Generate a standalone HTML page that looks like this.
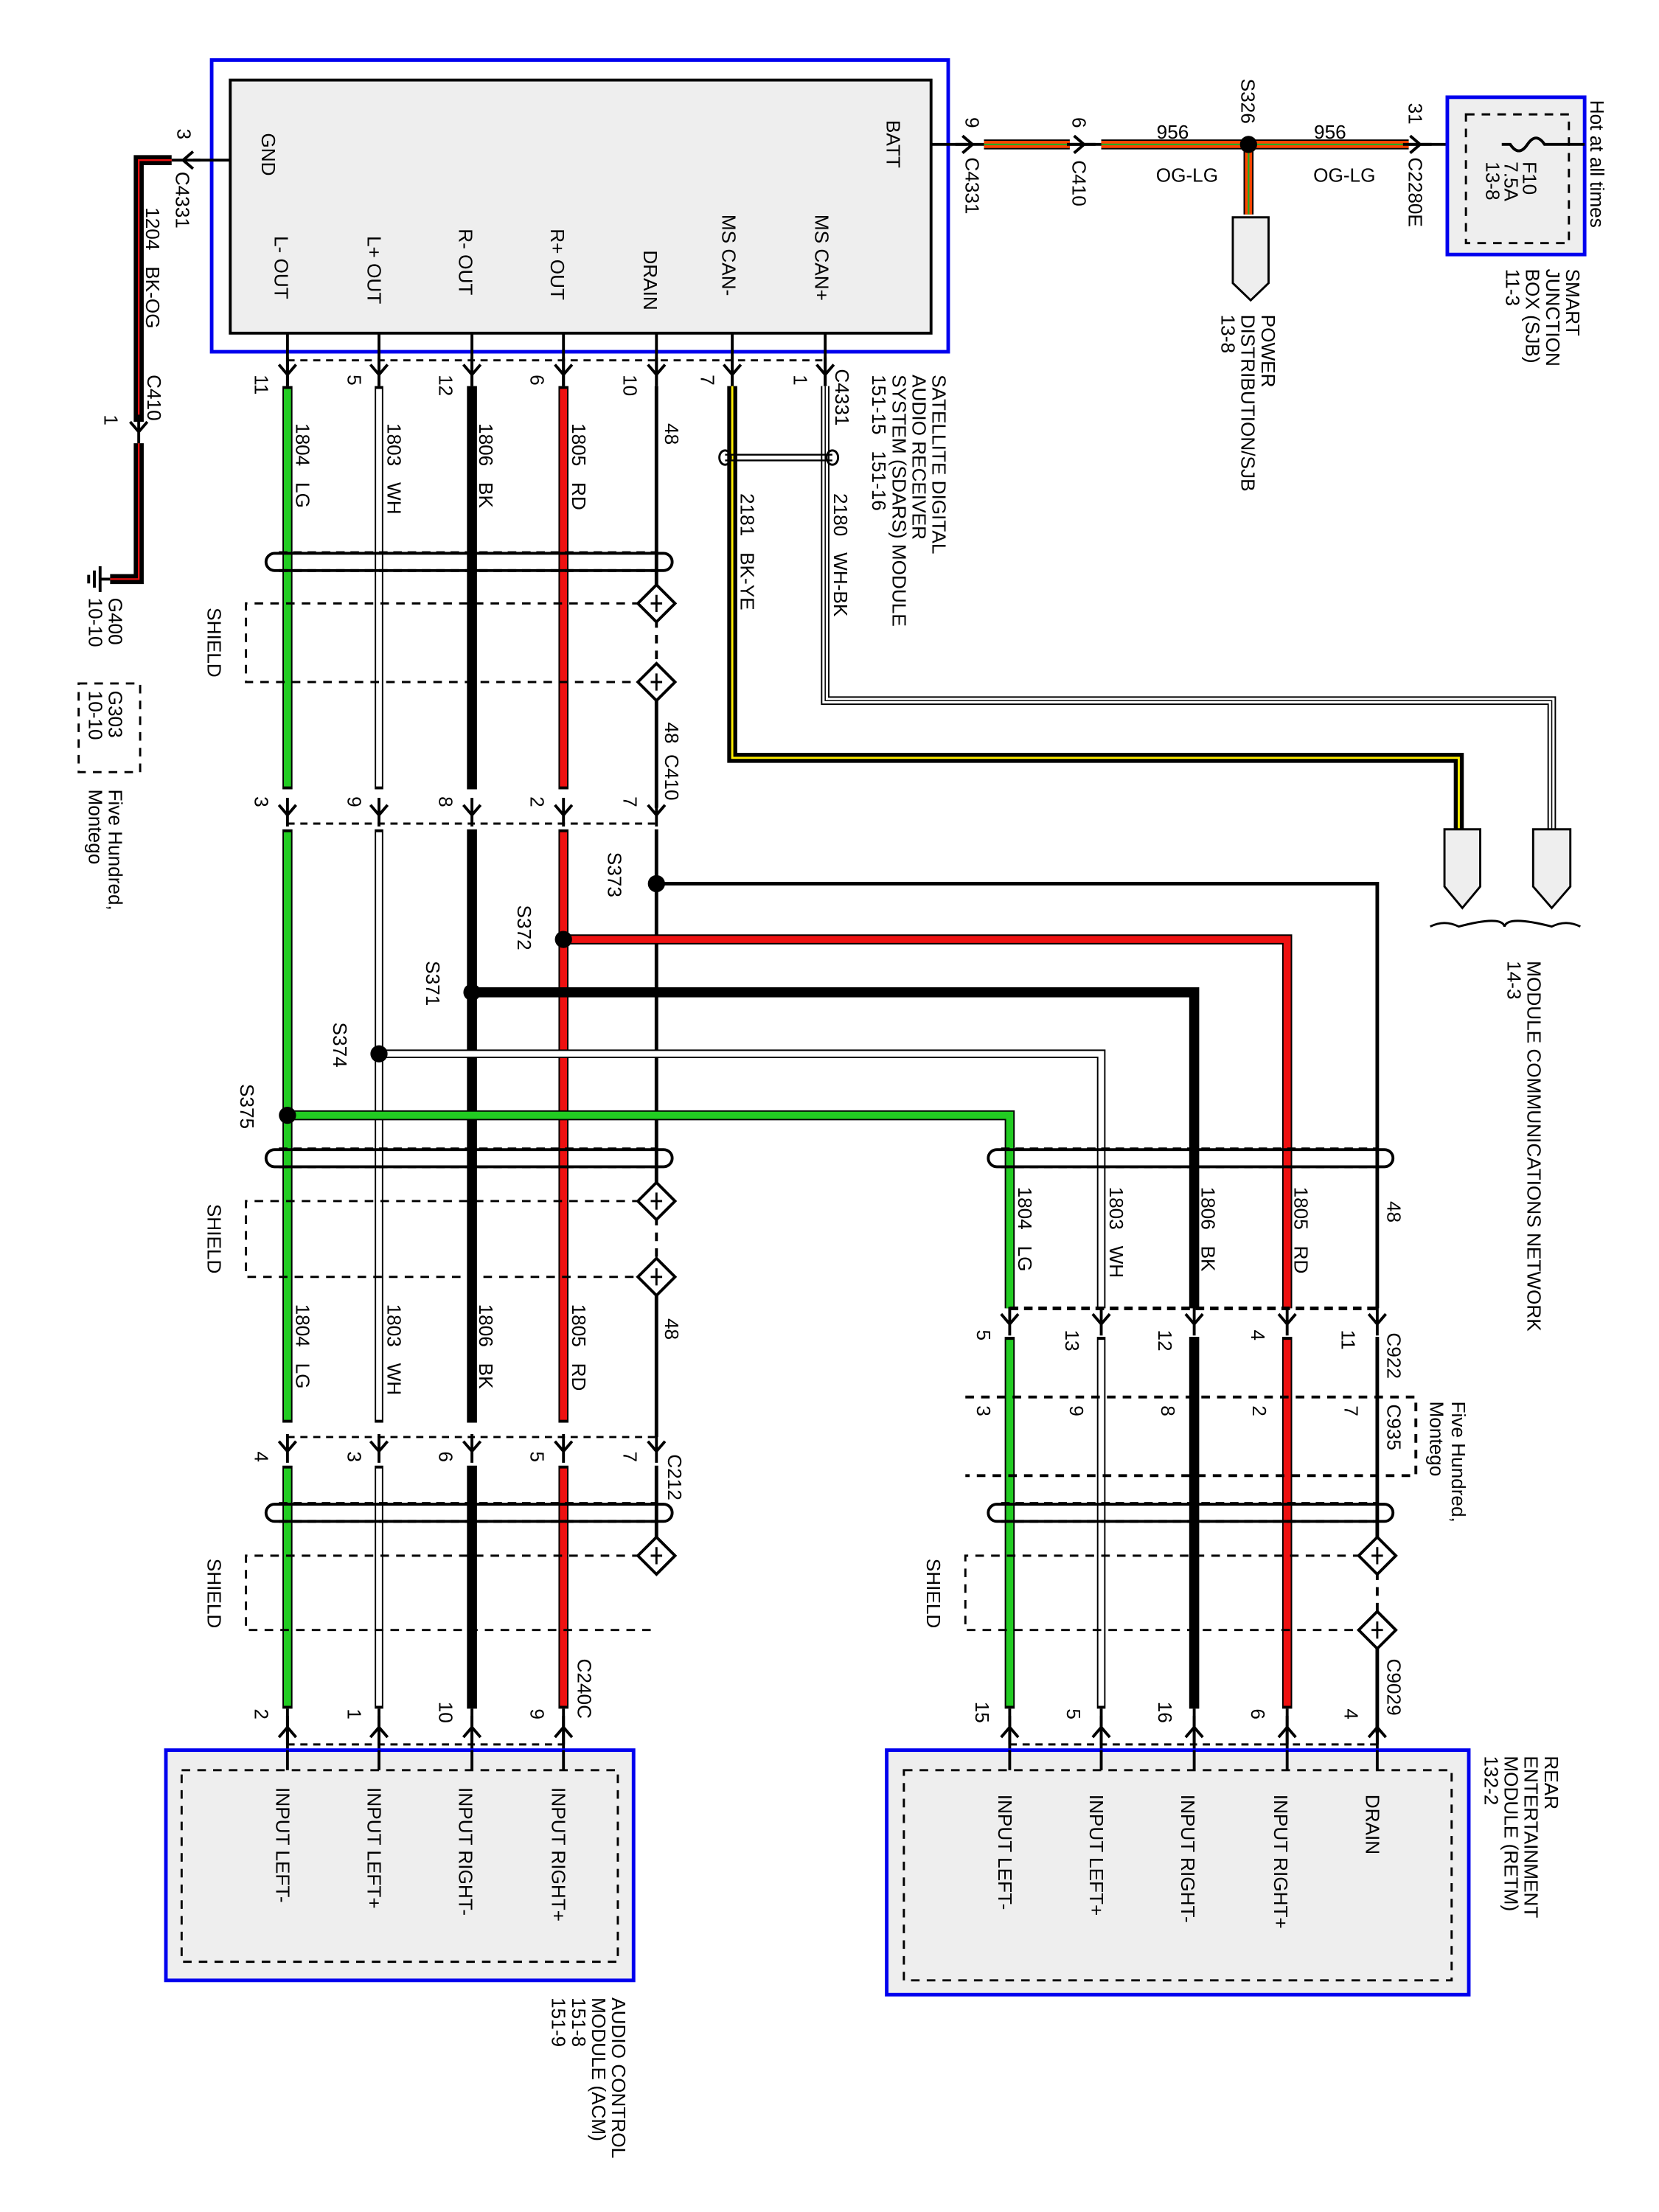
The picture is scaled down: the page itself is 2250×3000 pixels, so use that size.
<!DOCTYPE html>
<html><head><meta charset="utf-8"><style>
html,body{margin:0;padding:0;background:#fff}
svg{display:block}
text{font-family:"Liberation Sans",sans-serif;font-size:13.5px;fill:#000;white-space:pre}
.k{stroke:#000;fill:none}
</style></head><body>
<svg width="2250" height="3000" viewBox="0 0 1160 1547" preserveAspectRatio="none" xmlns="http://www.w3.org/2000/svg" xml:space="preserve">
<defs>
<g id="av"><path d="M-6,-7 L0,0 L6,-7 M0,-12 L0,8" stroke="#000" stroke-width="2" fill="none"/></g>
<g id="au"><path d="M-6,7 L0,0 L6,7 M0,-8 L0,12" stroke="#000" stroke-width="2" fill="none"/></g>
<g id="dm"><polygon points="0,-13 13,0 0,13 -13,0" fill="#fff" stroke="#000" stroke-width="2"/><path d="M0,-6 L0,6 M-4,0 L4,0" stroke="#000" stroke-width="1.5"/></g>
</defs>

<rect x="148" y="42" width="515" height="204" fill="none" stroke="#0000ee" stroke-width="2.5"/>
<rect x="161" y="56" width="490" height="177" fill="#eee" stroke="#000" stroke-width="2"/>
<g transform="translate(183,93) rotate(90)"><text>GND</text></g>
<g transform="translate(620,84) rotate(90)"><text>BATT</text></g>
<g transform="translate(192,165) rotate(90)"><text>L- OUT</text></g>
<g transform="translate(257,165) rotate(90)"><text>L+ OUT</text></g>
<g transform="translate(321,160) rotate(90)"><text>R- OUT</text></g>
<g transform="translate(385,160) rotate(90)"><text>R+ OUT</text></g>
<g transform="translate(450,175) rotate(90)"><text>DRAIN</text></g>
<g transform="translate(505,150) rotate(90)"><text>MS CAN-</text></g>
<g transform="translate(570,150) rotate(90)"><text>MS CAN+</text></g>

<path class="k" stroke-width="2" d="M201,233V270 M265,233V270 M330,233V270 M394,233V270 M459,233V270 M512,233V270 M577,233V270"/>
<path class="k" stroke-width="1.5" stroke-dasharray="5,4" d="M201,252H577"/>
<use href="#av" x="201" y="262"/><use href="#av" x="265" y="262"/><use href="#av" x="330" y="262"/><use href="#av" x="394" y="262"/><use href="#av" x="459" y="262"/><use href="#av" x="512" y="262"/><use href="#av" x="577" y="262"/>
<g transform="translate(178,262) rotate(90)"><text>11</text></g>
<g transform="translate(243,262) rotate(90)"><text>5</text></g>
<g transform="translate(307,262) rotate(90)"><text>12</text></g>
<g transform="translate(371,262) rotate(90)"><text>6</text></g>
<g transform="translate(436,262) rotate(90)"><text>10</text></g>
<g transform="translate(490,262) rotate(90)"><text>7</text></g>
<g transform="translate(555,262) rotate(90)"><text>1</text></g>
<g transform="translate(584,258) rotate(90)"><text>C4331</text></g>
<g transform="translate(652,262) rotate(90)"><text>SATELLITE DIGITAL</text></g>
<g transform="translate(638,262) rotate(90)"><text>AUDIO RECEIVER</text></g>
<g transform="translate(624,262) rotate(90)"><text>SYSTEM (SDARS) MODULE</text></g>
<g transform="translate(610,262) rotate(90)"><text>151-15   151-16</text></g>

<path d="M577,270V490H1085V580" fill="none" stroke="#000" stroke-width="6"/>
<path d="M577,270V490H1085V580" fill="none" stroke="#fff" stroke-width="4"/>
<path d="M577,270V490H1085V580" fill="none" stroke="#000" stroke-width="0.8"/>
<path d="M512,270V530H1020V580" fill="none" stroke="#000" stroke-width="7"/>
<path d="M512,270V530H1020V580" fill="none" stroke="#ffee00" stroke-width="1.5"/>
<ellipse cx="507" cy="320" rx="4" ry="5" fill="none" stroke="#000" stroke-width="1.5"/>
<ellipse cx="582" cy="320" rx="4" ry="5" fill="none" stroke="#000" stroke-width="1.5"/>
<path d="M507,318H582 M507,322H582" stroke="#000" stroke-width="1.2"/>
<g transform="translate(518,345) rotate(90)"><text>2181   BK-YE</text></g>
<g transform="translate(583,345) rotate(90)"><text>2180   WH-BK</text></g>
<path d="M1010,580H1035V620L1022.5,635L1010,620Z" fill="#eee" stroke="#000" stroke-width="1.5"/>
<path d="M1072,580H1098V620L1085,635L1072,620Z" fill="#eee" stroke="#000" stroke-width="1.5"/>
<path d="M1000,648 Q1010,643 1020,648 Q1050,640 1052,648 Q1054,640 1085,648 Q1095,643 1105,648" fill="none" stroke="#000" stroke-width="1.5"/>
<g transform="translate(1068,672) rotate(90)"><text>MODULE COMMUNICATIONS NETWORK</text></g>
<g transform="translate(1054,672) rotate(90)"><text>14-3</text></g>

<g fill="none">
<path d="M201,270V552 M201,580V995 M201,1025V1195" stroke="#000" stroke-width="7"/>
<path d="M201,272V550 M201,582V993 M201,1027V1193" stroke="#22cc22" stroke-width="5"/>
<path d="M265,270V552 M265,580V995 M265,1025V1195" stroke="#000" stroke-width="6"/>
<path d="M265,272V550 M265,582V993 M265,1027V1193" stroke="#fff" stroke-width="4"/>
<path d="M330,270V552 M330,580V995 M330,1025V1195" stroke="#000" stroke-width="7"/>
<path d="M394,270V552 M394,580V995 M394,1025V1195" stroke="#000" stroke-width="7"/>
<path d="M394,272V550 M394,582V993 M394,1027V1193" stroke="#ee1111" stroke-width="5"/>
<path d="M459,270V422 M459,477V565 M459,580V840 M459,893V1005 M459,1025V1088" stroke="#000" stroke-width="2.5"/>
<path d="M459,422V477 M459,840V893" stroke="#000" stroke-width="2" stroke-dasharray="6,5"/>
</g>
<g fill="none">
<path d="M459,618H963V915" stroke="#000" stroke-width="2.5"/>
<path d="M394,657H900V915" stroke="#000" stroke-width="7"/>
<path d="M394,657H900V915" stroke="#ee1111" stroke-width="5"/>
<path d="M330,694H835V915" stroke="#000" stroke-width="7"/>
<path d="M265,737H770V915" stroke="#000" stroke-width="6"/>
<path d="M265,737H770V915" stroke="#fff" stroke-width="4"/>
<path d="M201,780H706V915" stroke="#000" stroke-width="7"/>
<path d="M201,780H706V915" stroke="#22cc22" stroke-width="5"/>
<path d="M706,935V1195 M835,935V1195 M900,935V1195" stroke="#000" stroke-width="7"/>
<path d="M706,937V1193" stroke="#22cc22" stroke-width="5"/>
<path d="M900,937V1193" stroke="#ee1111" stroke-width="5"/>
<path d="M770,935V1195" stroke="#000" stroke-width="6"/>
<path d="M770,937V1193" stroke="#fff" stroke-width="4"/>
<path d="M963,935V1088 M963,1140V1212" stroke="#000" stroke-width="2.5"/>
<path d="M963,1088V1140" stroke="#000" stroke-width="2" stroke-dasharray="6,5"/>
</g>
<circle cx="459" cy="618" r="6"/><circle cx="394" cy="657" r="6"/><circle cx="330" cy="694" r="6"/><circle cx="265" cy="737" r="6"/><circle cx="201" cy="780" r="6"/>
<g transform="translate(425,596) rotate(90)"><text>S373</text></g>
<g transform="translate(362,633) rotate(90)"><text>S372</text></g>
<g transform="translate(298,672) rotate(90)"><text>S371</text></g>
<g transform="translate(233,715) rotate(90)"><text>S374</text></g>
<g transform="translate(168,758) rotate(90)"><text>S375</text></g>

<g fill="none" stroke="#000" stroke-width="2">
<rect x="186" y="387" width="284" height="12" rx="6"/>
<path d="M195,399H460" stroke-dasharray="6,4"/><path d="M195,386H460" stroke-width="1" stroke-dasharray="6,4"/>
<rect x="186" y="804" width="284" height="12" rx="6"/>
<path d="M195,816H460" stroke-dasharray="6,4"/><path d="M195,803H460" stroke-width="1" stroke-dasharray="6,4"/>
<rect x="186" y="1052" width="284" height="12" rx="6"/>
<path d="M195,1064H460" stroke-dasharray="6,4"/><path d="M195,1051H460" stroke-width="1" stroke-dasharray="6,4"/>
<rect x="691" y="804" width="283" height="12" rx="6"/>
<path d="M700,816H964" stroke-dasharray="6,4"/><path d="M700,803H964" stroke-width="1" stroke-dasharray="6,4"/>
<rect x="691" y="1052" width="283" height="12" rx="6"/>
<path d="M700,1064H964" stroke-dasharray="6,4"/><path d="M700,1051H964" stroke-width="1" stroke-dasharray="6,4"/>
</g>
<g fill="none" stroke="#000" stroke-width="1.5" stroke-dasharray="6,5">
<path d="M459,422H172V477H459"/>
<path d="M459,840H172V893H459"/>
<path d="M459,1088H172V1140H459"/>
<path d="M963,1088H675V1140H963"/>
</g>
<use href="#dm" x="459" y="422"/><use href="#dm" x="459" y="477"/>
<use href="#dm" x="459" y="840"/><use href="#dm" x="459" y="893"/>
<use href="#dm" x="459" y="1088"/>
<use href="#dm" x="963" y="1088"/><use href="#dm" x="963" y="1140"/>
<g transform="translate(145,425) rotate(90)"><text>SHIELD</text></g>
<g transform="translate(145,842) rotate(90)"><text>SHIELD</text></g>
<g transform="translate(145,1090) rotate(90)"><text>SHIELD</text></g>
<g transform="translate(648,1090) rotate(90)"><text>SHIELD</text></g>

<g transform="translate(207,296) rotate(90)"><text>1804   LG</text></g>
<g transform="translate(271,296) rotate(90)"><text>1803   WH</text></g>
<g transform="translate(335,296) rotate(90)"><text>1806   BK</text></g>
<g transform="translate(400,296) rotate(90)"><text>1805   RD</text></g>
<g transform="translate(465,296) rotate(90)"><text>48</text></g>

<path class="k" stroke-width="1.5" stroke-dasharray="5,4" d="M201,576H459"/>
<use href="#av" x="201" y="570"/><use href="#av" x="265" y="570"/><use href="#av" x="330" y="570"/><use href="#av" x="394" y="570"/><use href="#av" x="459" y="570"/>
<g transform="translate(178,557) rotate(90)"><text>3</text></g>
<g transform="translate(243,557) rotate(90)"><text>9</text></g>
<g transform="translate(307,557) rotate(90)"><text>8</text></g>
<g transform="translate(371,557) rotate(90)"><text>2</text></g>
<g transform="translate(436,557) rotate(90)"><text>7</text></g>
<g transform="translate(465,505) rotate(90)"><text>48  C410</text></g>

<g transform="translate(207,912) rotate(90)"><text>1804   LG</text></g>
<g transform="translate(271,912) rotate(90)"><text>1803   WH</text></g>
<g transform="translate(335,912) rotate(90)"><text>1806   BK</text></g>
<g transform="translate(400,912) rotate(90)"><text>1805   RD</text></g>
<g transform="translate(465,922) rotate(90)"><text>48</text></g>

<path class="k" stroke-width="1.5" stroke-dasharray="5,4" d="M201,1005H459"/>
<use href="#av" x="201" y="1015"/><use href="#av" x="265" y="1015"/><use href="#av" x="330" y="1015"/><use href="#av" x="394" y="1015"/><use href="#av" x="459" y="1015"/>
<g transform="translate(178,1015) rotate(90)"><text>4</text></g>
<g transform="translate(243,1015) rotate(90)"><text>3</text></g>
<g transform="translate(307,1015) rotate(90)"><text>6</text></g>
<g transform="translate(371,1015) rotate(90)"><text>5</text></g>
<g transform="translate(436,1015) rotate(90)"><text>7</text></g>
<g transform="translate(467,1017) rotate(90)"><text>C212</text></g>

<path class="k" stroke-width="2" d="M201,1195V1238 M265,1195V1238 M330,1195V1238 M394,1195V1238"/>
<path class="k" stroke-width="1.5" stroke-dasharray="5,4" d="M201,1220H394"/>
<use href="#au" x="201" y="1208"/><use href="#au" x="265" y="1208"/><use href="#au" x="330" y="1208"/><use href="#au" x="394" y="1208"/>
<g transform="translate(178,1195) rotate(90)"><text>2</text></g>
<g transform="translate(243,1195) rotate(90)"><text>1</text></g>
<g transform="translate(307,1190) rotate(90)"><text>10</text></g>
<g transform="translate(371,1195) rotate(90)"><text>9</text></g>
<g transform="translate(404,1160) rotate(90)"><text>C240C</text></g>
<rect x="116" y="1224" width="327" height="161" fill="#eee" stroke="#0000ee" stroke-width="2.5"/>
<rect x="127" y="1238" width="305" height="134" fill="none" stroke="#000" stroke-width="1.5" stroke-dasharray="6,5"/>
<path class="k" stroke-width="2" d="M201,1224V1238 M265,1224V1238 M330,1224V1238 M394,1224V1238"/>
<g transform="translate(193,1250) rotate(90)"><text>INPUT LEFT-</text></g>
<g transform="translate(257,1250) rotate(90)"><text>INPUT LEFT+</text></g>
<g transform="translate(321,1250) rotate(90)"><text>INPUT RIGHT-</text></g>
<g transform="translate(386,1250) rotate(90)"><text>INPUT RIGHT+</text></g>
<g transform="translate(428,1397) rotate(90)"><text>AUDIO CONTROL</text></g>
<g transform="translate(414,1397) rotate(90)"><text>MODULE (ACM)</text></g>
<g transform="translate(400,1397) rotate(90)"><text>151-8</text></g>
<g transform="translate(386,1397) rotate(90)"><text>151-9</text></g>

<g transform="translate(712,830) rotate(90)"><text>1804   LG</text></g>
<g transform="translate(776,830) rotate(90)"><text>1803   WH</text></g>
<g transform="translate(840,830) rotate(90)"><text>1806   BK</text></g>
<g transform="translate(905,830) rotate(90)"><text>1805   RD</text></g>
<g transform="translate(970,840) rotate(90)"><text>48</text></g>
<path class="k" stroke-width="2.5" stroke-dasharray="6,4" d="M706,915H963"/>
<use href="#av" x="706" y="926"/><use href="#av" x="770" y="926"/><use href="#av" x="835" y="926"/><use href="#av" x="900" y="926"/><use href="#av" x="963" y="926"/>
<g transform="translate(683,930) rotate(90)"><text>5</text></g>
<g transform="translate(745,930) rotate(90)"><text>13</text></g>
<g transform="translate(810,930) rotate(90)"><text>12</text></g>
<g transform="translate(875,930) rotate(90)"><text>4</text></g>
<g transform="translate(938,930) rotate(90)"><text>11</text></g>
<g transform="translate(970,932) rotate(90)"><text>C922</text></g>
<path class="k" stroke-width="2" stroke-dasharray="6,5" d="M675,977H990V1032H675"/>
<g transform="translate(683,983) rotate(90)"><text>3</text></g>
<g transform="translate(748,983) rotate(90)"><text>9</text></g>
<g transform="translate(812,983) rotate(90)"><text>8</text></g>
<g transform="translate(876,983) rotate(90)"><text>2</text></g>
<g transform="translate(940,983) rotate(90)"><text>7</text></g>
<g transform="translate(970,982) rotate(90)"><text>C935</text></g>
<g transform="translate(1015,980) rotate(90)"><text>Five Hundred,</text></g>
<g transform="translate(1000,980) rotate(90)"><text>Montego</text></g>
<path class="k" stroke-width="2" d="M706,1195V1238 M770,1195V1238 M835,1195V1238 M900,1195V1238 M963,1195V1238"/>
<path class="k" stroke-width="1.5" stroke-dasharray="5,4" d="M706,1220H963"/>
<use href="#au" x="706" y="1208"/><use href="#au" x="770" y="1208"/><use href="#au" x="835" y="1208"/><use href="#au" x="900" y="1208"/><use href="#au" x="963" y="1208"/>
<g transform="translate(682,1190) rotate(90)"><text>15</text></g>
<g transform="translate(746,1195) rotate(90)"><text>5</text></g>
<g transform="translate(810,1190) rotate(90)"><text>16</text></g>
<g transform="translate(875,1195) rotate(90)"><text>6</text></g>
<g transform="translate(940,1195) rotate(90)"><text>4</text></g>
<g transform="translate(970,1160) rotate(90)"><text>C9029</text></g>
<rect x="620" y="1224" width="407" height="171" fill="#eee" stroke="#0000ee" stroke-width="2.5"/>
<rect x="632" y="1238" width="383" height="147" fill="none" stroke="#000" stroke-width="1.5" stroke-dasharray="6,5"/>
<path class="k" stroke-width="2" d="M706,1224V1238 M770,1224V1238 M835,1224V1238 M900,1224V1238 M963,1224V1238"/>
<g transform="translate(698,1255) rotate(90)"><text>INPUT LEFT-</text></g>
<g transform="translate(762,1255) rotate(90)"><text>INPUT LEFT+</text></g>
<g transform="translate(826,1255) rotate(90)"><text>INPUT RIGHT-</text></g>
<g transform="translate(891,1255) rotate(90)"><text>INPUT RIGHT+</text></g>
<g transform="translate(955,1255) rotate(90)"><text>DRAIN</text></g>
<g transform="translate(1080,1228) rotate(90)"><text>REAR</text></g>
<g transform="translate(1066,1228) rotate(90)"><text>ENTERTAINMENT</text></g>
<g transform="translate(1052,1228) rotate(90)"><text>MODULE (RETM)</text></g>
<g transform="translate(1038,1228) rotate(90)"><text>132-2</text></g>

<path class="k" stroke-width="2" d="M161,112H135"/>
<g transform="translate(128,112) rotate(90)"><use href="#av" x="0" y="0"/></g>
<path d="M120,112H97V295 M97,310V405H77" fill="none" stroke="#000" stroke-width="7"/>
<path d="M120,112H97V295 M97,310V405H77" fill="none" stroke="#ee1111" stroke-width="1.2"/>
<use href="#av" x="97" y="302"/>
<path class="k" stroke-width="2" d="M77,405H70 M70,396V414 M66,399V411 M62,402V408"/>
<g transform="translate(124,90) rotate(90)"><text>3</text></g>
<g transform="translate(123,120) rotate(90)"><text>C4331</text></g>
<g transform="translate(102,145) rotate(90)"><text>1204   BK-OG</text></g>
<g transform="translate(103,262) rotate(90)"><text>C410</text></g>
<g transform="translate(73,290) rotate(90)"><text>1</text></g>
<g transform="translate(76,418) rotate(90)"><text>G400</text></g>
<g transform="translate(62,418) rotate(90)"><text>10-10</text></g>
<rect x="55" y="478" width="43" height="62" fill="none" stroke="#000" stroke-width="1.5" stroke-dasharray="6,5"/>
<g transform="translate(76,483) rotate(90)"><text>G303</text></g>
<g transform="translate(62,483) rotate(90)"><text>10-10</text></g>
<g transform="translate(76,552) rotate(90)"><text>Five Hundred,</text></g>
<g transform="translate(62,552) rotate(90)"><text>Montego</text></g>

<path class="k" stroke-width="2" d="M651,101H676"/>
<g transform="translate(680,101) rotate(-90)"><use href="#av" x="0" y="0"/></g>
<g fill="none">
<path d="M688,101H748 M770,101H985 M873,101V150" stroke="#000" stroke-width="7"/>
<path d="M688,101H748 M770,101H985 M873,101V150" stroke="#ff4400" stroke-width="5"/>
<path d="M688,101H748 M770,101H985 M873,101V150" stroke="#22aa22" stroke-width="1.2"/>
</g>
<path class="k" stroke-width="2" d="M748,101H770 M985,101H1108"/>
<g transform="translate(758,101) rotate(-90)"><use href="#av" x="0" y="0"/></g>
<g transform="translate(993,101) rotate(-90)"><use href="#av" x="0" y="0"/></g>
<circle cx="873" cy="101" r="6"/>
<path d="M862,152H887V198L874.5,210L862,198Z" fill="#eee" stroke="#000" stroke-width="1.5"/>
<text x="820" y="97" text-anchor="middle">956</text>
<text x="830" y="127" text-anchor="middle">OG-LG</text>
<text x="930" y="97" text-anchor="middle">956</text>
<text x="940" y="127" text-anchor="middle">OG-LG</text>
<g transform="translate(868,55) rotate(90)"><text>S326</text></g>
<g transform="translate(750,82) rotate(90)"><text>6</text></g>
<g transform="translate(750,112) rotate(90)"><text>C410</text></g>
<g transform="translate(675,82) rotate(90)"><text>9</text></g>
<g transform="translate(675,110) rotate(90)"><text>C4331</text></g>
<g transform="translate(985,72) rotate(90)"><text>31</text></g>
<g transform="translate(985,110) rotate(90)"><text>C2280E</text></g>
<g transform="translate(882,220) rotate(90)"><text>POWER</text></g>
<g transform="translate(868,220) rotate(90)"><text>DISTRIBUTION/SJB</text></g>
<g transform="translate(854,220) rotate(90)"><text>13-8</text></g>
<rect x="1012" y="68" width="96" height="110" fill="#eee" stroke="#0000ee" stroke-width="2.5"/>
<rect x="1025" y="80" width="72" height="90" fill="none" stroke="#000" stroke-width="1.5" stroke-dasharray="6,5"/>
<path class="k" stroke-width="2" d="M1108,101H1080 Q1074,92 1068,101 Q1062,110 1056,101 H1050"/>
<rect x="1030" y="97" width="20" height="8" fill="#eee"/>
<g transform="translate(1065,113) rotate(90)"><text>F10</text></g>
<g transform="translate(1052,113) rotate(90)"><text>7.5A</text></g>
<g transform="translate(1039,113) rotate(90)"><text>13-8</text></g>
<g transform="translate(1112,70) rotate(90)"><text>Hot at all times</text></g>
<g transform="translate(1095,188) rotate(90)"><text>SMART</text></g>
<g transform="translate(1081,188) rotate(90)"><text>JUNCTION</text></g>
<g transform="translate(1067,188) rotate(90)"><text>BOX (SJB)</text></g>
<g transform="translate(1053,188) rotate(90)"><text>11-3</text></g>
</svg>
</body></html>
